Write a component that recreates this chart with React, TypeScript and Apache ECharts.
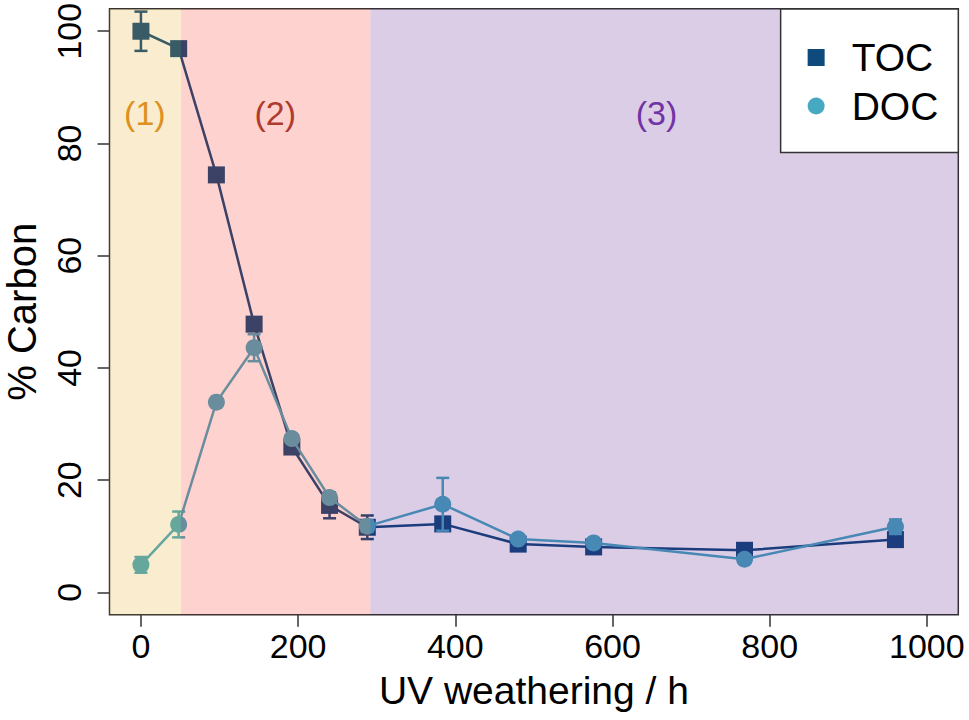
import React, { useEffect, useRef } from "react";
import * as echarts from "echarts";

const hours = [0, 48, 96, 144, 192, 240, 288, 384, 480, 576, 768, 960];
const tocValues = [100, 96.9, 74.4, 47.8, 25.9, 15.5, 11.6, 12.2, 8.6, 8.1, 7.5, 9.4];
const docValues = [4.9, 12.1, 33.9, 43.6, 27.4, 16.9, 11.8, 15.7, 9.5, 8.8, 5.9, 11.7];
const tocErrors = [3.5, 0.5, 0.5, 0.8, 0.5, 2.3, 2.1, 1.2, 0.5, 0.5, 0.5, 1.0];
const docErrors = [1.4, 2.3, 0.5, 2.4, 0.5, 0.5, 1.0, 4.7, 0.5, 0.5, 0.5, 1.3];

const xTicks = [0, 200, 400, 600, 800, 1000];
const yTicks = [0, 20, 40, 60, 80, 100];

const regionStarts = [-40, 51, 292];
const regionEnds = [51, 292, 1040];
const regionLabels = ["(1)", "(2)", "(3)"];
const regionLabelX = [5, 171, 656];
const regionLabelY = [85.5, 85.5, 85.5];

const X_MIN = -40;
const X_MAX = 1040;
const Y_MIN = -4;
const Y_MAX = 104;

const TOC_COLOR = "#0e4a7c";
const DOC_COLOR = "#46a9c1";
const overlayFills = [
  "rgba(230,160,15,0.2)",
  "rgba(245,30,15,0.2)",
  "rgba(80,5,130,0.2)",
];
const labelColors = ["#dc9120", "#b03a2e", "#7233a4"];
const FONT = "'Liberation Sans', Arial, Helvetica, sans-serif";

function errorSeries(name: string, values: number[], errors: number[], color: string, z: number) {
  return {
    type: "custom",
    name: name + "-err",
    z,
    silent: true,
    data: hours.map((h, i) => [h, values[i] - errors[i], values[i] + errors[i]]),
    encode: { x: 0, y: [1, 2] },
    renderItem: (params: any, api: any) => {
      const x = api.value(0);
      const lo = api.coord([x, api.value(1)]);
      const hi = api.coord([x, api.value(2)]);
      const hw = 6.5;
      const style = { stroke: color, lineWidth: 2.5 };
      return {
        type: "group",
        children: [
          { type: "line", shape: { x1: lo[0], y1: lo[1], x2: hi[0], y2: hi[1] }, style },
          { type: "line", shape: { x1: lo[0] - hw, y1: lo[1], x2: lo[0] + hw, y2: lo[1] }, style },
          { type: "line", shape: { x1: hi[0] - hw, y1: hi[1], x2: hi[0] + hw, y2: hi[1] }, style },
        ],
      };
    },
  };
}

export default function App() {
  const ref = useRef<HTMLDivElement>(null);
  useEffect(() => {
    if (!ref.current) return;
    const chart = echarts.init(ref.current, null, { renderer: "svg" });
    const option: any = {
      animation: false,
      backgroundColor: "#ffffff",
      textStyle: { fontFamily: FONT },
      grid: {
        left: 109.5,
        right: 10.7,
        top: 8.8,
        bottom: 105.2,
        show: true,
        containLabel: false,
        outerBoundsMode: "none",
        borderColor: "#333333",
        borderWidth: 1.5,
        backgroundColor: "transparent",
      },
      xAxis: {
        type: "value",
        min: X_MIN,
        max: X_MAX,
        name: "UV weathering / h",
        nameLocation: "middle",
        nameGap: 56,
        nameTextStyle: { fontSize: 39, color: "#000", fontFamily: FONT },
        axisLine: { show: false, onZero: false },
        axisTick: {
          show: true,
          length: 12,
          customValues: xTicks,
          lineStyle: { color: "#333", width: 1.5 },
        },
        axisLabel: {
          customValues: xTicks,
          formatter: (v: number) => String(v),
          fontSize: 34,
          color: "#000",
          margin: 14,
          fontFamily: FONT,
        },
        splitLine: { show: false },
      },
      yAxis: {
        type: "value",
        min: Y_MIN,
        max: Y_MAX,
        name: "% Carbon",
        nameLocation: "middle",
        nameGap: 68,
        nameTextStyle: { fontSize: 40, color: "#000", fontFamily: FONT },
        axisLine: { show: false, onZero: false },
        axisTick: {
          show: true,
          length: 12,
          customValues: yTicks,
          lineStyle: { color: "#333", width: 1.5 },
        },
        axisLabel: {
          customValues: yTicks,
          formatter: (v: number) => String(v),
          rotate: 90,
          fontSize: 34,
          color: "#000",
          margin: 24,
          fontFamily: FONT,
        },
        splitLine: { show: false },
      },
      legend: {
        show: true,
        orient: "vertical",
        right: 10.7,
        top: 9,
        z: 20,
        padding: [29, 20, 27, 27],
        itemGap: 9.5,
        itemWidth: 17,
        itemHeight: 17,
        backgroundColor: "#ffffff",
        borderColor: "#333333",
        borderWidth: 1.5,
        borderRadius: 0,
        selectedMode: false,
        textStyle: {
          fontSize: 39,
          lineHeight: 39,
          color: "#000",
          fontFamily: FONT,
          padding: [0, 0, 0, 22],
        },
        data: [
          { name: "TOC", icon: "rect" },
          { name: "DOC", icon: "circle" },
        ],
      },
      series: [
        errorSeries("TOC", tocValues, tocErrors, TOC_COLOR, 2),
        {
          type: "line",
          name: "TOC",
          z: 3,
          data: hours.map((h, i) => [h, tocValues[i]]),
          symbol: "rect",
          symbolSize: 17,
          showSymbol: true,
          itemStyle: { color: TOC_COLOR },
          lineStyle: { color: TOC_COLOR, width: 2.5 },
          emphasis: { disabled: true },
          silent: true,
        },
        errorSeries("DOC", docValues, docErrors, DOC_COLOR, 4),
        {
          type: "line",
          name: "DOC",
          z: 5,
          data: hours.map((h, i) => [h, docValues[i]]),
          symbol: "circle",
          symbolSize: 17,
          showSymbol: true,
          itemStyle: { color: DOC_COLOR },
          lineStyle: { color: DOC_COLOR, width: 2.5 },
          emphasis: { disabled: true },
          silent: true,
        },
        {
          type: "custom",
          name: "regions",
          z: 10,
          silent: true,
          clip: true,
          data: regionStarts.map((s, i) => [s, regionEnds[i], regionLabelX[i], regionLabelY[i], i]),
          encode: { x: [0, 1], y: 3 },
          renderItem: (params: any, api: any) => {
            const idx = params.dataIndex;
            const p0 = api.coord([api.value(0), Y_MAX]);
            const p1 = api.coord([api.value(1), Y_MIN]);
            const lp = api.coord([api.value(2), api.value(3)]);
            return {
              type: "group",
              children: [
                {
                  type: "rect",
                  shape: { x: p0[0], y: p0[1], width: p1[0] - p0[0], height: p1[1] - p0[1] },
                  style: { fill: overlayFills[idx] },
                },
                {
                  type: "text",
                  x: lp[0],
                  y: lp[1],
                  style: {
                    text: regionLabels[idx],
                    fill: labelColors[idx],
                    fontSize: 34,
                    fontFamily: FONT,
                    align: "center",
                    verticalAlign: "middle",
                  },
                },
              ],
            };
          },
        },
      ],
    };
    chart.setOption(option);
    return () => {
      chart.dispose();
    };
  }, []);
  return (
    <div
      ref={ref}
      style={{ position: "fixed", left: 0, top: 0, width: 969, height: 720 }}
    />
  );
}
